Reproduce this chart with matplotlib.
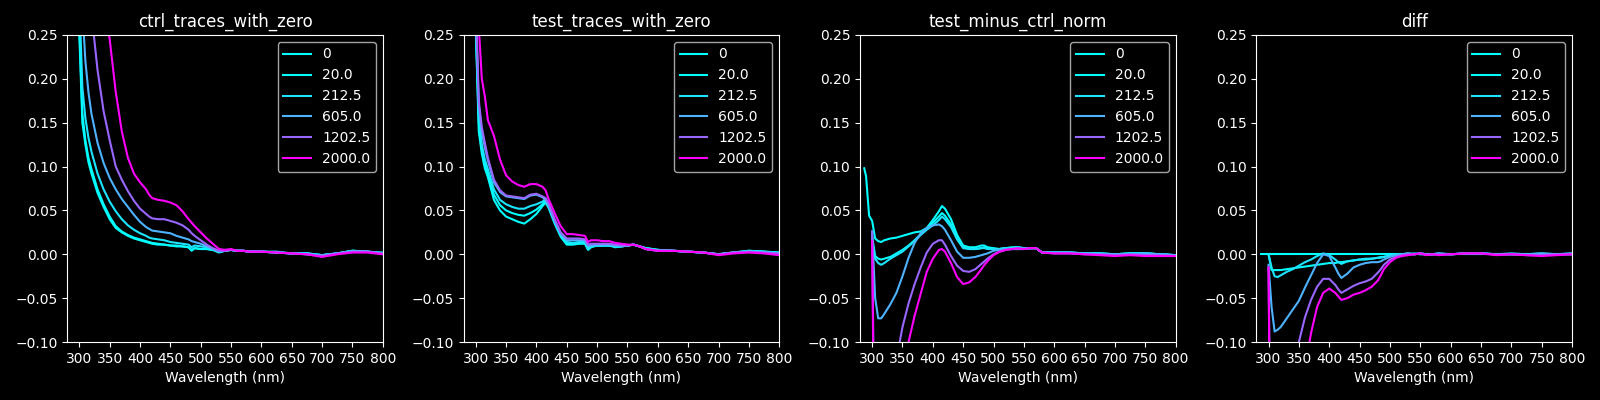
import numpy as np
import matplotlib
matplotlib.use("Agg")
import matplotlib.pyplot as plt

# ---------------------
# data
# ---------------------
wavelength = [287, 290, 295, 300, 305, 310, 315, 320, 330, 340, 350, 360, 370, 380,
              390, 400, 410, 415, 420, 430, 440, 450, 460, 470, 480, 485, 490, 500,
              510, 520, 530, 540, 550, 560, 570, 580, 600, 625, 650, 675, 700, 725,
              750, 775, 800]

conc_values = [0, 20.0, 212.5, 605.0, 1202.5, 2000.0]
conc_labels = ["0", "20.0", "212.5", "605.0", "1202.5", "2000.0"]

titles = ["ctrl_traces_with_zero", "test_traces_with_zero",
          "test_minus_ctrl_norm", "diff"]

nan = np.nan

ctrl_traces = [
    [0.62, 0.52, 0.38, 0.25, 0.15, 0.125, 0.105, 0.092, 0.07, 0.054, 0.04, 0.03, 0.025, 0.021,
     0.018, 0.016, 0.014, 0.013, 0.012, 0.011, 0.011, 0.010, 0.009, 0.009, 0.008, 0.004, 0.007, 0.006,
     0.006, 0.005, 0.002, 0.004, 0.005, 0.004, 0.004, 0.003, 0.003, 0.003, 0.001, 0.001, -0.001, 0.001,
     0.004, 0.003, 0.001],
    [0.64, 0.54, 0.40, 0.26, 0.16, 0.13, 0.11, 0.097, 0.074, 0.057, 0.043, 0.032, 0.026, 0.022,
     0.019, 0.017, 0.015, 0.014, 0.013, 0.012, 0.011, 0.010, 0.010, 0.009, 0.008, 0.005, 0.007, 0.006,
     0.006, 0.005, 0.003, 0.004, 0.005, 0.004, 0.004, 0.003, 0.003, 0.002, 0.001, 0.001, -0.001, 0.001,
     0.004, 0.003, 0.002],
    [0.70, 0.58, 0.43, 0.29, 0.19, 0.155, 0.133, 0.117, 0.092, 0.074, 0.060, 0.049, 0.040, 0.033,
     0.028, 0.024, 0.021, 0.019, 0.018, 0.017, 0.016, 0.014, 0.013, 0.012, 0.011, 0.008, 0.010, 0.009,
     0.008, 0.006, 0.004, 0.005, 0.005, 0.004, 0.004, 0.003, 0.003, 0.002, 0.001, 0.001, -0.001, 0.001,
     0.004, 0.003, 0.001],
    [0.85, 0.70, 0.52, 0.37, 0.28, 0.22, 0.185, 0.16, 0.127, 0.104, 0.087, 0.074, 0.063, 0.054,
     0.045, 0.037, 0.031, 0.029, 0.027, 0.026, 0.025, 0.024, 0.021, 0.019, 0.017, 0.015, 0.014, 0.012,
     0.009, 0.006, 0.003, 0.004, 0.005, 0.004, 0.004, 0.003, 0.003, 0.002, 0.001, 0.000, -0.001, 0.001,
     0.003, 0.003, 0.001],
    [1.10, 0.95, 0.75, 0.55, 0.45, 0.38, 0.32, 0.275, 0.21, 0.163, 0.13, 0.10, 0.085, 0.072,
     0.061, 0.052, 0.046, 0.043, 0.041, 0.040, 0.040, 0.038, 0.036, 0.033, 0.028, 0.024, 0.021, 0.016,
     0.011, 0.007, 0.004, 0.004, 0.005, 0.004, 0.004, 0.003, 0.003, 0.002, 0.001, 0.000, -0.002, 0.001,
     0.003, 0.003, 0.001],
    [1.40, 1.25, 1.00, 0.80, 0.67, 0.57, 0.49, 0.43, 0.35, 0.29, 0.245, 0.185, 0.14, 0.11,
     0.092, 0.082, 0.074, 0.068, 0.064, 0.062, 0.061, 0.059, 0.056, 0.049, 0.040, 0.036, 0.032, 0.025,
     0.018, 0.012, 0.006, 0.005, 0.006, 0.004, 0.004, 0.003, 0.003, 0.002, 0.001, 0.000, -0.003, 0.000,
     0.002, 0.002, 0.000],
]

test_traces = [
    [0.70, 0.55, 0.38, 0.26, 0.14, 0.115, 0.098, 0.088, 0.062, 0.050, 0.043, 0.040, 0.037, 0.035,
     0.040, 0.046, 0.055, 0.059, 0.053, 0.035, 0.020, 0.011, 0.011, 0.012, 0.012, 0.005, 0.008, 0.010,
     0.010, 0.010, 0.008, 0.009, 0.010, 0.011, 0.009, 0.007, 0.005, 0.004, 0.003, 0.002, 0.000, 0.002,
     0.004, 0.003, 0.002],
    [0.71, 0.56, 0.39, 0.26, 0.15, 0.12, 0.103, 0.092, 0.068, 0.056, 0.050, 0.047, 0.045, 0.044,
     0.047, 0.051, 0.057, 0.061, 0.055, 0.037, 0.022, 0.013, 0.012, 0.013, 0.013, 0.006, 0.009, 0.010,
     0.010, 0.010, 0.009, 0.009, 0.010, 0.011, 0.009, 0.007, 0.005, 0.004, 0.003, 0.002, 0.000, 0.002,
     0.004, 0.003, 0.002],
    [0.72, 0.57, 0.40, 0.27, 0.16, 0.125, 0.108, 0.097, 0.074, 0.062, 0.057, 0.054, 0.052, 0.052,
     0.055, 0.057, 0.060, 0.063, 0.057, 0.039, 0.023, 0.014, 0.013, 0.014, 0.014, 0.007, 0.009, 0.010,
     0.010, 0.010, 0.009, 0.009, 0.010, 0.011, 0.009, 0.007, 0.005, 0.004, 0.003, 0.002, 0.000, 0.002,
     0.003, 0.003, 0.001],
    [0.74, 0.59, 0.42, 0.28, 0.17, 0.14, 0.122, 0.107, 0.082, 0.071, 0.066, 0.065, 0.064, 0.063,
     0.067, 0.068, 0.065, 0.062, 0.055, 0.038, 0.023, 0.016, 0.016, 0.016, 0.016, 0.009, 0.010, 0.011,
     0.011, 0.011, 0.010, 0.010, 0.010, 0.011, 0.009, 0.006, 0.004, 0.004, 0.003, 0.002, 0.000, 0.002,
     0.003, 0.002, 0.001],
    [0.76, 0.60, 0.43, 0.29, 0.175, 0.145, 0.127, 0.11, 0.085, 0.073, 0.067, 0.066, 0.065, 0.064,
     0.068, 0.069, 0.066, 0.064, 0.058, 0.040, 0.025, 0.018, 0.018, 0.018, 0.017, 0.011, 0.012, 0.012,
     0.012, 0.012, 0.011, 0.010, 0.010, 0.011, 0.009, 0.006, 0.004, 0.004, 0.003, 0.002, 0.000, 0.002,
     0.003, 0.002, 0.001],
    [1.00, 0.80, 0.55, 0.38, 0.26, 0.20, 0.18, 0.153, 0.135, 0.108, 0.090, 0.083, 0.079, 0.077,
     0.080, 0.080, 0.077, 0.073, 0.063, 0.047, 0.032, 0.023, 0.023, 0.022, 0.021, 0.014, 0.016, 0.016,
     0.015, 0.015, 0.013, 0.012, 0.011, 0.011, 0.009, 0.006, 0.004, 0.004, 0.003, 0.002, -0.001, 0.001,
     0.002, 0.001, -0.001],
]

test_minus_ctrl = [
    [0.098, 0.089, 0.044, 0.038, 0.018, 0.015, 0.014, 0.016, 0.018, 0.019, 0.021, 0.023, 0.025, 0.026,
     0.030, 0.039, 0.049, 0.055, 0.052, 0.040, 0.022, 0.010, 0.008, 0.008, 0.010, 0.010, 0.008, 0.007,
     0.006, 0.007, 0.008, 0.008, 0.007, 0.007, 0.007, 0.002, 0.002, 0.002, 0.001, 0.001, 0.000, 0.001,
     0.001, 0.000, -0.001],
    [nan, nan, nan, 0.020, -0.002, -0.005, -0.006, -0.005, -0.003, 0.001, 0.005, 0.010, 0.016, 0.023,
     0.029, 0.036, 0.043, 0.047, 0.044, 0.034, 0.018, 0.008, 0.006, 0.006, 0.007, 0.008, 0.007, 0.006,
     0.006, 0.007, 0.007, 0.008, 0.007, 0.007, 0.007, 0.002, 0.002, 0.002, 0.001, 0.001, 0.000, 0.001,
     0.001, 0.000, -0.001],
    [nan, nan, nan, 0.015, -0.005, -0.010, -0.012, -0.010, -0.005, -0.001, 0.003, 0.009, 0.015, 0.022,
     0.028, 0.033, 0.039, 0.043, 0.040, 0.031, 0.017, 0.007, 0.006, 0.006, 0.007, 0.007, 0.006, 0.006,
     0.006, 0.007, 0.007, 0.007, 0.007, 0.007, 0.007, 0.002, 0.002, 0.002, 0.001, 0.001, 0.000, 0.001,
     0.001, 0.000, -0.001],
    [nan, nan, nan, 0.026, -0.050, -0.073, -0.073, -0.068, -0.057, -0.044, -0.025, -0.004, 0.013, 0.024,
     0.030, 0.033, 0.034, 0.032, 0.028, 0.016, 0.003, -0.004, -0.004, -0.003, -0.001, 0.000, 0.001, 0.004,
     0.005, 0.006, 0.006, 0.006, 0.006, 0.007, 0.007, 0.002, 0.002, 0.002, 0.001, 0.000, 0.000, 0.000,
     0.001, 0.000, -0.001],
    [nan, nan, nan, 0.026, -0.30, -0.30, -0.28, -0.26, -0.20, -0.12, -0.083, -0.056, -0.034, -0.015,
     0.002, 0.012, 0.016, 0.016, 0.011, -0.002, -0.013, -0.019, -0.020, -0.017, -0.011, -0.008, -0.005, 0.000,
     0.003, 0.005, 0.006, 0.006, 0.006, 0.007, 0.007, 0.002, 0.001, 0.001, 0.000, 0.000, -0.001, 0.000,
     -0.001, -0.001, -0.002],
    [nan, nan, nan, 0.015, -0.35, -0.35, -0.34, -0.32, -0.28, -0.22, -0.16, -0.10, -0.070, -0.045,
     -0.020, -0.005, 0.005, 0.006, 0.003, -0.010, -0.026, -0.034, -0.032, -0.026, -0.017, -0.012, -0.008, -0.001,
     0.003, 0.005, 0.006, 0.007, 0.006, 0.007, 0.007, 0.002, 0.001, 0.001, 0.000, -0.001, -0.002, -0.001,
     -0.002, -0.002, -0.002],
]

diff_traces = [
    [0.0, 0.0, 0.0, 0.0, 0.0, 0.0, 0.0, 0.0, 0.0, 0.0, 0.0, 0.0, 0.0, 0.0,
     0.0, 0.0, 0.0, 0.0, 0.0, 0.0, 0.0, 0.0, 0.0, 0.0, 0.0, 0.0, 0.0, 0.0,
     0.0, 0.0, 0.0, 0.0, 0.0, 0.0, 0.0, 0.0, 0.0, 0.0, 0.0, 0.0, 0.0, 0.0,
     0.0, 0.0, 0.0],
    [nan, nan, nan, 0.0, -0.018, -0.018, -0.018, -0.018, -0.017, -0.016, -0.015, -0.014, -0.013, -0.012,
     -0.011, -0.010, -0.010, -0.009, -0.009, -0.008, -0.007, -0.006, -0.006, -0.005, -0.004, -0.004, -0.003, -0.002,
     -0.001, 0.000, 0.000, 0.001, 0.000, 0.000, 0.000, 0.000, 0.000, 0.001, 0.001, 0.000, 0.000, 0.000,
     0.000, 0.000, 0.000],
    [nan, nan, nan, 0.0, -0.015, -0.025, -0.026, -0.024, -0.020, -0.017, -0.013, -0.009, -0.006, -0.002,
     0.001, -0.001, -0.006, -0.009, -0.011, -0.008, -0.007, -0.006, -0.005, -0.005, -0.004, -0.003, -0.003, -0.001,
     0.000, 0.000, 0.001, 0.000, 0.001, 0.000, 0.000, 0.001, 0.000, 0.001, 0.001, 0.000, 0.001, 0.000,
     0.001, 0.000, 0.001],
    [nan, nan, nan, -0.012, -0.060, -0.088, -0.086, -0.083, -0.073, -0.063, -0.053, -0.038, -0.024, -0.010,
     0.000, -0.002, -0.015, -0.022, -0.027, -0.022, -0.015, -0.012, -0.010, -0.009, -0.009, -0.008, -0.006, -0.003,
     -0.001, 0.000, 0.001, 0.000, 0.001, 0.000, 0.000, 0.001, 0.000, 0.001, 0.001, 0.000, 0.000, 0.000,
     0.001, 0.000, 0.001],
    [nan, nan, nan, -0.015, -0.35, -0.35, -0.33, -0.30, -0.22, -0.15, -0.10, -0.072, -0.052, -0.037,
     -0.028, -0.028, -0.035, -0.040, -0.044, -0.040, -0.036, -0.033, -0.031, -0.028, -0.021, -0.017, -0.012, -0.006,
     -0.003, -0.001, 0.000, 0.000, 0.001, 0.000, 0.000, 0.000, 0.000, 0.001, 0.001, 0.000, 0.000, -0.001,
     -0.001, 0.000, 0.000],
    [nan, nan, nan, -0.015, -0.40, -0.40, -0.38, -0.36, -0.30, -0.24, -0.18, -0.13, -0.090, -0.060,
     -0.044, -0.039, -0.044, -0.048, -0.052, -0.050, -0.046, -0.044, -0.041, -0.037, -0.030, -0.024, -0.017, -0.009,
     -0.004, -0.002, -0.001, 0.000, 0.001, -0.001, 0.000, -0.001, 0.000, 0.001, 0.001, -0.001, 0.000, -0.001,
     -0.002, -0.001, 0.000],
]

panels = [ctrl_traces, test_traces, test_minus_ctrl, diff_traces]

# ---------------------
# plot
# ---------------------
plt.style.use("dark_background")
fig, axes = plt.subplots(1, 4, figsize=(16, 4), dpi=100)
fig.subplots_adjust(left=0.042, right=0.9825, top=0.9125, bottom=0.145, wspace=0.256)

for ax, title, traces in zip(axes, titles, panels):
    for conc, label, ys in zip(conc_values, conc_labels, traces):
        ax.plot(wavelength, ys, color=plt.cm.cool(conc / max(conc_values)), label=label)
    ax.set_title(title)
    ax.set_xlim(280, 800)
    ax.set_ylim(-0.10, 0.25)
    ax.set_xticks(np.arange(300, 801, 50))
    ax.set_xlabel("Wavelength (nm)")
    ax.legend(loc="upper right")

fig.savefig("out.png")
